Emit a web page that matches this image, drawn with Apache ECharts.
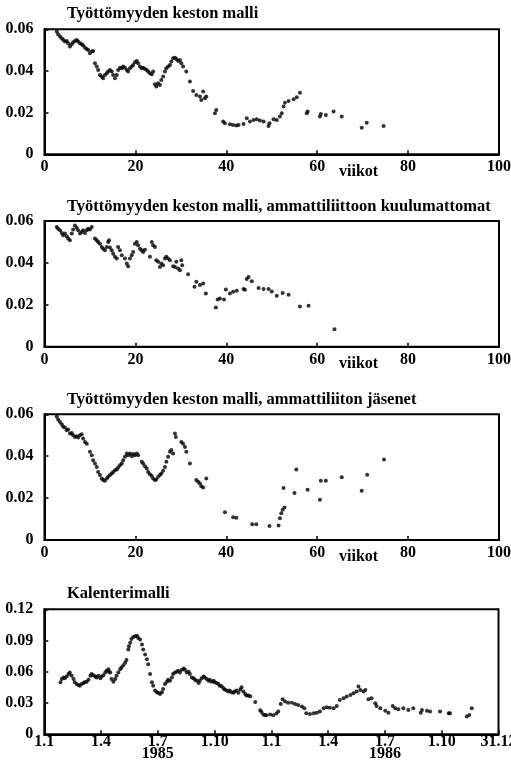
<!DOCTYPE html>
<html>
<head>
<meta charset="utf-8">
<script src="https://cdn.jsdelivr.net/npm/echarts@6/dist/echarts.min.js"></script>
<style>
html,body{margin:0;padding:0;background:#fff;}
#chart{width:511px;height:772px;}
</style>
</head>
<body>
<div id="chart"></div>
<script>
// ---- Data (x = viikot / päivät alkaen 1.1.1985, y = intensiteetti) ----
const titles = [
  'Työttömyyden keston malli',
  'Työttömyyden keston malli, ammattiliittoon kuulumattomat',
  'Työttömyyden keston malli, ammattiliiton jäsenet',
  'Kalenterimalli'
];
const weekAxisName = 'viikot';
const weekTicks = [0, 100, 20];            // min, max, step
const rateTicks = [0, 0.06, 0.02];
const calRateTicks = [0, 0.12, 0.03];
const calDays = [0, 730];
const calTickLabels = ['1.1', '1.4', '1.7\n1985', '1.10', '1.1', '1.4', '1.7\n1986', '1.10', '31.12'];

const points1 = [
[2.7,.0589],[3.0,.0576],[3.4,.0565],[3.8,.0557],[4.1,.0550],[4.5,.0541],[4.9,.0544],[5.2,.0533],[5.6,.0517],[6.0,.0528],
[6.3,.0538],[6.7,.0544],[7.1,.0549],[7.4,.0541],[7.8,.0533],[8.2,.0528],[8.5,.0522],[8.9,.0512],[9.3,.0506],[9.6,.0501],
[10.0,.0485],[10.4,.0493],[10.7,.0496],[11.1,.0437],[11.5,.0421],[11.8,.0405],[12.2,.0381],[12.6,.0373],[12.9,.0365],[13.3,.0381],
[13.7,.0389],[14.0,.0397],[14.4,.0405],[14.8,.0397],[15.1,.0381],[15.5,.0365],[15.9,.0381],[16.2,.0405],[16.6,.0416],[17.0,.0413],
[17.3,.0421],[17.7,.0416],[18.1,.0405],[18.4,.0397],[18.8,.0413],[19.2,.0421],[19.5,.0429],[19.9,.0442],[20.3,.0448],[20.6,.0437],
[21.0,.0421],[21.4,.0413],[21.7,.0416],[22.1,.0410],[22.5,.0405],[22.8,.0397],[23.2,.0389],[23.6,.0384],[23.9,.0397],[24.3,.0336],
[24.6,.0325],[25.0,.0341],[25.4,.0333],[25.7,.0357],[26.1,.0373],[26.5,.0397],[26.8,.0413],[27.2,.0421],[27.6,.0429],[27.9,.0445],
[28.3,.0461],[28.7,.0464],[29.0,.0458],[29.4,.0448],[29.8,.0453],[30.1,.0437],[30.5,.0421],[31.2,.0397],[32.0,.0349],[32.7,.0304],
[33.4,.0285],[34.2,.0277],[34.5,.0261],[34.9,.0301],[35.3,.0269],[35.6,.0277],[37.5,.0197],[37.8,.0213],[39.3,.0157],[39.7,.0149],
[40.8,.0144],[41.5,.0141],[42.2,.0138],[42.7,.0141],[43.8,.0146],[44.5,.0173],[45.2,.0157],[46.0,.0165],[46.7,.0168],[47.4,.0162],
[48.2,.0157],[49.3,.0136],[49.5,.0149],[50.4,.0168],[51.1,.0165],[51.8,.0181],[52.2,.0197],[52.6,.0229],[52.9,.0248],[53.7,.0256],
[54.8,.0264],[55.5,.0274],[56.2,.0296],[57.7,.0197],[57.9,.0205],[60.6,.0181],[60.8,.0194],[61.9,.0189],[63.6,.0205],[65.4,.0181],
[69.8,.0128],[70.9,.0152],[74.6,.0136]
];

const points2 = [
[2.7,.0571],[3.0,.0563],[3.4,.0556],[3.8,.0543],[4.1,.0532],[4.5,.0540],[4.9,.0527],[5.2,.0516],[5.6,.0508],[6.0,.0540],
[6.3,.0559],[6.7,.0579],[7.1,.0568],[7.4,.0556],[7.8,.0540],[8.2,.0548],[8.5,.0556],[8.9,.0543],[9.3,.0556],[9.6,.0563],
[10.0,.0559],[10.4,.0571],[11.1,.0516],[11.5,.0508],[11.8,.0500],[12.2,.0492],[12.6,.0476],[12.9,.0468],[13.3,.0460],[13.7,.0476],
[14.0,.0500],[14.2,.0508],[14.4,.0473],[14.8,.0460],[15.1,.0444],[15.5,.0429],[15.9,.0421],[16.2,.0476],[16.6,.0460],[17.0,.0437],
[17.7,.0421],[18.1,.0397],[18.4,.0384],[18.8,.0421],[19.2,.0437],[19.5,.0452],[19.9,.0492],[20.3,.0500],[20.6,.0484],[21.0,.0468],
[21.4,.0460],[21.7,.0452],[22.1,.0463],[23.2,.0429],[23.6,.0500],[23.9,.0484],[24.3,.0476],[24.6,.0413],[25.0,.0405],[25.4,.0381],
[25.7,.0397],[26.1,.0389],[26.5,.0421],[26.8,.0429],[27.2,.0421],[27.6,.0413],[28.3,.0384],[28.7,.0381],[29.0,.0405],[29.4,.0373],
[29.8,.0365],[30.1,.0413],[30.3,.0389],[31.6,.0346],[33.0,.0286],[33.4,.0310],[34.2,.0294],[34.9,.0302],[35.5,.0254],[37.7,.0187],
[38.1,.0225],[38.6,.0230],[39.5,.0225],[39.9,.0273],[40.8,.0254],[41.5,.0262],[42.3,.0267],[43.8,.0275],[44.1,.0272],[44.5,.0323],
[44.9,.0333],[45.6,.0312],[47.1,.0280],[48.2,.0275],[49.3,.0275],[50.0,.0264],[51.1,.0243],[52.4,.0256],[53.7,.0248],[56.2,.0192],
[58.1,.0195],[63.8,.0083]
];

const points3 = [
[2.7,.0590],[3.0,.0575],[3.4,.0563],[3.8,.0552],[4.1,.0540],[4.5,.0537],[4.9,.0524],[5.2,.0527],[5.6,.0508],[6.0,.0511],
[6.3,.0500],[6.7,.0492],[7.1,.0495],[7.4,.0489],[7.8,.0500],[8.2,.0505],[8.5,.0484],[8.9,.0468],[9.3,.0460],[10.0,.0421],
[10.4,.0405],[10.7,.0381],[11.1,.0365],[11.5,.0349],[11.8,.0325],[12.2,.0310],[12.6,.0294],[12.9,.0286],[13.3,.0283],[13.7,.0294],
[14.0,.0302],[14.4,.0310],[14.8,.0317],[15.1,.0325],[15.5,.0333],[15.9,.0337],[16.2,.0346],[16.6,.0357],[17.0,.0365],[17.3,.0381],
[17.7,.0397],[18.1,.0413],[18.4,.0405],[18.8,.0413],[19.2,.0400],[19.5,.0410],[19.9,.0405],[20.3,.0413],[20.6,.0405],[21.4,.0373],
[21.7,.0365],[22.1,.0352],[22.5,.0341],[22.8,.0325],[23.2,.0314],[23.6,.0305],[23.9,.0294],[24.3,.0286],[24.6,.0289],[25.0,.0302],
[25.4,.0310],[25.7,.0317],[26.1,.0330],[26.5,.0349],[26.8,.0373],[27.2,.0397],[27.6,.0421],[27.9,.0429],[28.3,.0413],[28.7,.0508],
[28.9,.0492],[30.1,.0468],[30.5,.0460],[30.9,.0444],[31.2,.0421],[32.0,.0365],[33.4,.0286],[33.8,.0278],[34.2,.0270],[34.5,.0257],
[34.9,.0251],[35.6,.0294],[39.7,.0132],[41.5,.0108],[42.2,.0106],[45.7,.0075],[46.6,.0075],[49.5,.0067],[51.5,.0069],[51.8,.0104],
[52.1,.0128],[52.4,.0144],[52.6,.0248],[52.8,.0155],[55.0,.0224],[55.4,.0336],[57.9,.0240],[60.6,.0192],[60.8,.0283],[61.9,.0283],
[65.4,.0299],[69.8,.0235],[71.0,.0312],[74.7,.0384]
];

const points4 = [
[26,.0499],[28,.0530],[31,.0546],[33,.0537],[36,.0556],[39,.0578],[41,.0594],[44,.0562],[47,.0530],[49,.0499],
[52,.0483],[55,.0474],[57,.0467],[60,.0483],[63,.0493],[65,.0499],[68,.0505],[71,.0524],[74,.0562],[76,.0578],
[79,.0568],[82,.0556],[84,.0546],[87,.0562],[90,.0537],[92,.0556],[95,.0568],[98,.0594],[100,.0609],[103,.0625],
[104,.0600],[106,.0594],[108,.0530],[111,.0505],[114,.0530],[116,.0562],[119,.0594],[122,.0625],[124,.0641],[127,.0663],
[130,.0688],[132,.0714],[135,.0815],[136,.0846],[138,.0878],[140,.0916],[143,.0935],[146,.0941],[149,.0947],[151,.0925],
[154,.0909],[157,.0862],[159,.0815],[162,.0767],[165,.0720],[167,.0673],[170,.0578],[173,.0499],[175,.0467],[178,.0420],
[181,.0404],[183,.0398],[186,.0388],[189,.0404],[191,.0436],[194,.0483],[197,.0505],[199,.0524],[202,.0515],[205,.0546],
[207,.0578],[210,.0594],[213,.0600],[215,.0609],[218,.0594],[221,.0619],[224,.0632],[226,.0619],[229,.0594],[232,.0600],
[234,.0578],[237,.0546],[240,.0537],[242,.0524],[245,.0515],[248,.0493],[250,.0515],[253,.0537],[256,.0556],[258,.0546],
[261,.0530],[264,.0515],[266,.0524],[269,.0505],[272,.0515],[274,.0499],[277,.0493],[280,.0483],[282,.0467],[285,.0461],
[288,.0442],[290,.0429],[293,.0420],[296,.0411],[298,.0420],[301,.0404],[304,.0398],[306,.0411],[309,.0420],[312,.0398],
[315,.0429],[317,.0452],[320,.0411],[323,.0388],[325,.0373],[328,.0373],[331,.0366],[339,.0309],[347,.0230],[349,.0215],
[352,.0189],[355,.0183],[357,.0183],[363,.0189],[368,.0183],[373,.0199],[376,.0218],[380,.0291],[383,.0336],[387,.0314],
[392,.0304],[398,.0304],[403,.0291],[408,.0282],[414,.0266],[418,.0250],[421,.0202],[427,.0195],[433,.0202],[438,.0208],
[443,.0218],[449,.0250],[454,.0259],[459,.0256],[465,.0250],[470,.0272],[475,.0330],[481,.0346],[486,.0362],[492,.0378],
[497,.0394],[502,.0410],[505,.0458],[508,.0426],[513,.0410],[516,.0426],[521,.0336],[526,.0346],[532,.0298],[534,.0272],
[540,.0250],[548,.0227],[553,.0208],[560,.0272],[564,.0250],[569,.0240],[577,.0250],[585,.0234],[593,.0250],[605,.0208],
[607,.0234],[615,.0227],[620,.0218],[636,.0218],[650,.0202],[652,.0202],[679,.0170],[683,.0186],[687,.0250]
];

// ---- Layout / style ----
const FONT = '"Liberation Serif", "DejaVu Serif", serif';
const grids = [
  {left: 44.5, top: 29.3, right: 12, height: 125},
  {left: 44.5, top: 221,  right: 12, height: 125.7},
  {left: 44.5, top: 414.3, right: 12, height: 125.7},
  {left: 44.3, top: 609.3, right: 12.5, height: 125}
];
const titleTops = [5, 198, 391, 585];
const viikotY = [173, 365, 558];

const labelStyle = {color: '#000', fontFamily: FONT, fontWeight: 'bold', fontSize: 16};
function rateFmt(v){ return v === 0 ? '0' : v.toFixed(2); }

const xAxes = [], yAxes = [], series = [];
const allPoints = [points1, points2, points3];
for (let i = 0; i < 3; i++) {
  xAxes.push({
    type: 'value', gridIndex: i, min: weekTicks[0], max: weekTicks[1], interval: weekTicks[2],
    axisLine: {show: true, onZero: false, lineStyle: {color: '#000', width: 2}},
    axisTick: {show: true, inside: true, length: 4, lineStyle: {color: '#000', width: 1.5}},
    axisLabel: Object.assign({margin: 5}, labelStyle),
    splitLine: {show: false}
  });
  yAxes.push({
    type: 'value', gridIndex: i, min: rateTicks[0], max: rateTicks[1], interval: rateTicks[2],
    axisLine: {show: true, lineStyle: {color: '#000', width: 2}},
    axisTick: {show: true, inside: true, length: 4, lineStyle: {color: '#000', width: 1.5}},
    axisLabel: Object.assign({margin: 11, formatter: rateFmt}, labelStyle),
    splitLine: {show: false}
  });
  series.push({
    type: 'scatter', xAxisIndex: i, yAxisIndex: i, data: allPoints[i],
    symbolSize: 4, itemStyle: {color: '#000'}, silent: true
  });
}
const calStep = (calDays[1] - calDays[0]) / (calTickLabels.length - 1);
xAxes.push({
  type: 'value', gridIndex: 3, min: calDays[0], max: calDays[1], interval: calStep,
  axisLine: {show: true, onZero: false, lineStyle: {color: '#000', width: 2}},
  axisTick: {show: true, inside: true, length: 4, lineStyle: {color: '#000', width: 1.5}},
  axisLabel: Object.assign({margin: 2, lineHeight: 12, showMaxLabel: true, showMinLabel: true,
    formatter: function(v){ return calTickLabels[Math.round((v - calDays[0]) / calStep)] || ''; }}, labelStyle),
  splitLine: {show: false}
});
yAxes.push({
  type: 'value', gridIndex: 3, min: calRateTicks[0], max: calRateTicks[1], interval: calRateTicks[2],
  axisLine: {show: true, lineStyle: {color: '#000', width: 2}},
  axisTick: {show: true, inside: true, length: 4, lineStyle: {color: '#000', width: 1.5}},
  axisLabel: Object.assign({margin: 11, formatter: rateFmt}, labelStyle),
  splitLine: {show: false}
});
series.push({
  type: 'scatter', xAxisIndex: 3, yAxisIndex: 3, data: points4,
  symbolSize: 4, itemStyle: {color: '#000'}, silent: true
});

const option = {
  backgroundColor: '#fff',
  animation: false,
  title: titles.map((t, i) => ({
    text: t, left: 67, top: titleTops[i], padding: 0,
    textStyle: {color: '#000', fontFamily: FONT, fontWeight: 'bold', fontSize: 16.5}
  })),
  grid: grids.map(g => Object.assign({show: true, borderColor: '#000', borderWidth: 2,
    backgroundColor: 'transparent', containLabel: false, outerBoundsMode: 'none'}, g)),
  xAxis: xAxes,
  yAxis: yAxes,
  series: series,
  graphic: viikotY.map(y => ({
    type: 'text', left: 339, top: y - 9,
    style: {text: weekAxisName, fill: '#000', font: 'bold 16px ' + FONT}
  }))
};

const chart = echarts.init(document.getElementById('chart'), null, {renderer: 'canvas'});
chart.setOption(option);
</script>
</body>
</html>
